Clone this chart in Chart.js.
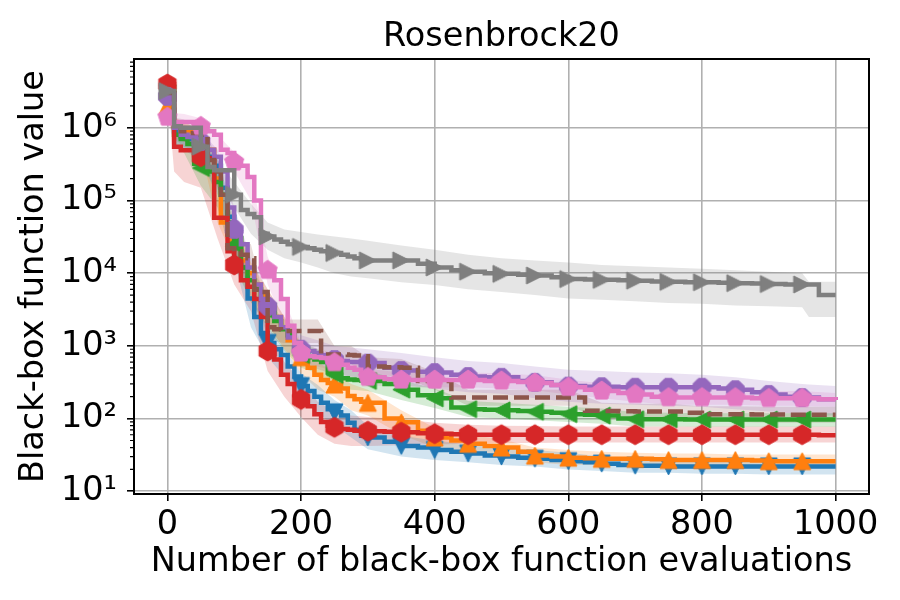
<!DOCTYPE html>
<html>
<head>
<meta charset="utf-8">
<script src="https://cdn.jsdelivr.net/npm/chart.js@4/dist/chart.umd.min.js"></script>
<style>
  html, body { margin: 0; padding: 0; background: #fff; }
</style>
</head>
<body>
<canvas id="grafica" width="900" height="600"></canvas>
<script>
const chartTitle = 'Rosenbrock20';
const xTitle = 'Number of black-box function evaluations';
const yTitle = 'Black-box function value';

const xTicks = [0, 200, 400, 600, 800, 1000];
const xTickLabels = ['0', '200', '400', '600', '800', '1000'];
const yTicks = [10, 100, 1000, 10000, 100000, 1000000];
const yTickLabels = ['10¹', '10²', '10³', '10⁴', '10⁵', '10⁶'];

// x positions of the best-so-far curves
const evals = [0, 10, 20, 30, 40, 50, 60, 70, 80, 90, 100, 110, 120, 130, 140, 150, 160, 170, 180, 190, 200,
  210, 220, 230, 240, 250, 260, 270, 280, 290, 300, 325, 350, 375, 400, 425, 450, 475, 500,
  525, 550, 575, 600, 625, 650, 675, 700, 725, 750, 775, 800, 825, 850, 875, 900, 925, 950, 975, 1000];
// x positions of the shaded bands
const bandEvals = [0, 10, 25, 50, 75, 100, 125, 150, 175, 200, 225, 250, 275, 300, 350, 400, 450, 500,
  550, 600, 650, 700, 750, 800, 850, 900, 950, 960, 1000];

const blueMean = [3.0e6, 9.0e5, 7.5e5, 7.0e5, 6.5e5, 5.5e5, 4.0e5, 3.0e5, 1.5e5, 6.0e4,
  3.0e4, 1.2e4, 4.5e3, 2.5e3, 1.5e3, 1.1e3, 900, 750, 520, 380, 280, 240, 200, 165, 135, 122,
  110, 88, 70, 58, 55, 48, 42, 40, 37, 35, 33, 31, 30, 29, 28, 27, 26, 25, 24, 23, 22.5,
  22.5, 22, 22, 22, 22, 22, 22, 22, 22, 22, 22, 22];
const blueLow = [2.5e6, 6e5, 5e5, 3.5e5, 1.2e5, 1.5e4, 1.8e3, 700, 380, 180, 120, 80, 55, 38, 30, 27, 25, 23,
  22, 20, 19, 18, 18, 17.5, 17.5, 17, 17, 17, 17];
const blueHigh = [3.5e6, 1.2e6, 9e5, 8e5, 4e5, 6e4, 5e3, 1.8e3, 900, 420, 290, 180, 130, 80, 58, 50, 44, 40,
  37, 34, 30, 28, 28, 27.5, 27.5, 27, 27, 27, 27];

const orangeMean = [2.0e6, 1.0e6, 9.0e5, 9.0e5, 8.0e5, 7.0e5, 5.0e5, 2.0e5, 5.0e4, 3.5e4,
  3.0e4, 1.5e4, 1.0e4, 7.0e3, 5.0e3, 3.5e3, 2.5e3, 1.8e3, 1.2e3, 900, 700, 500, 400, 340, 310, 295,
  260, 205, 185, 170, 165, 100, 89, 68, 55, 50, 45, 42, 40, 35, 31, 30, 29, 28.5, 28, 28, 28,
  27.5, 27, 27, 27, 27, 27, 26.5, 26, 26, 26, 26, 26];
const orangeLow = [1.6e6, 7e5, 6.5e5, 5e5, 5e4, 1.5e4, 4e3, 2e3, 900, 420, 250, 200, 130, 110, 60, 40, 34, 30,
  25, 23, 23, 22, 22, 21, 21, 21, 21, 21, 21];
const orangeHigh = [2.6e6, 1.4e6, 1.2e6, 9e5, 2e5, 6e4, 1.4e4, 6e3, 2.5e3, 1.1e3, 600, 430, 300, 250, 130, 75, 60, 52,
  40, 37, 35, 34, 33, 33, 32, 32, 32, 32, 32];

const greenMean = [3.0e6, 8.0e5, 7.0e5, 6.0e5, 3.2e5, 2.8e5, 2.5e5, 1.8e5, 1.2e5, 5.0e4,
  2.5e4, 1.2e4, 8.0e3, 6.0e3, 4.0e3, 3.0e3, 2.2e3, 1.7e3, 1.4e3, 1.0e3, 750, 700, 650, 600, 430, 400,
  360, 345, 340, 335, 330, 300, 250, 210, 190, 142, 135, 132, 130, 127, 124, 120, 115, 113, 110, 100, 98,
  98, 98, 97, 97, 97, 97, 97, 97, 97, 97, 97, 97];
const greenLow = [2.5e6, 6e5, 4.5e5, 1.6e5, 8e4, 1.3e4, 4e3, 1.8e3, 850, 500, 420, 280, 250, 240, 180, 140, 105, 100,
  95, 90, 85, 78, 78, 77, 77, 77, 77, 77, 77];
const greenHigh = [3.6e6, 1.1e6, 9e5, 4.5e5, 2.5e5, 5e4, 1.2e4, 5e3, 2e3, 1.1e3, 900, 580, 470, 450, 340, 260, 175, 165,
  155, 145, 138, 122, 120, 118, 118, 118, 118, 118, 118];

const redMean = [4.0e6, 5.5e5, 4.9e5, 4.9e5, 4.2e5, 4.0e5, 3.8e5, 5.8e4, 5.8e4, 2.0e4,
  1.3e4, 8.0e3, 6.5e3, 4.4e3, 2.5e3, 850, 650, 400, 300, 210, 184, 148, 115, 90, 80, 76,
  72, 70, 68, 67, 67, 66, 65, 63, 62, 61, 60, 60, 60, 60, 60, 60, 60, 60, 60, 60, 60,
  60, 60, 60, 60, 60, 60, 60, 60, 60, 60, 59, 59];
const redLow = [3.4e6, 2.5e5, 1.8e5, 1.5e5, 3e4, 7e3, 3e3, 450, 200, 105, 60, 45, 42, 42, 43, 44, 45, 46,
  46, 47, 47, 47, 47, 47, 47, 47, 47, 47, 47];
const redHigh = [4.6e6, 9e5, 8e5, 7e5, 1.1e5, 2.5e4, 1e4, 1.6e3, 600, 330, 170, 125, 110, 105, 98, 88, 82, 80,
  79, 78, 78, 78, 78, 78, 78, 78, 78, 78, 78];

const purpleMean = [2.7e6, 1.0e6, 8.0e5, 7.5e5, 7.0e5, 6.5e5, 5.0e5, 4.0e5, 2.5e5, 8.0e4,
  4.0e4, 2.5e4, 1.2e4, 7.0e3, 4.4e3, 3.5e3, 2.5e3, 1.8e3, 1.3e3, 1.1e3, 900, 850, 800, 750, 700, 650,
  620, 600, 600, 590, 580, 500, 460, 440, 430, 400, 380, 370, 370, 330, 315, 290, 280, 275, 275, 270, 270,
  270, 270, 270, 270, 260, 250, 230, 215, 200, 195, 185, 180];
const purpleLow = [2.2e6, 7e5, 5.5e5, 4.5e5, 1.5e5, 2e4, 5e3, 2e3, 900, 550, 480, 400, 380, 360, 290, 260, 230, 220,
  190, 170, 160, 155, 150, 145, 135, 125, 115, 112, 110];
const purpleHigh = [3.3e6, 1.4e6, 1.1e6, 9e5, 5e5, 8e4, 1.6e4, 6e3, 2.5e3, 1.4e3, 1.2e3, 1e3, 950, 900, 800, 700, 620, 580,
  520, 470, 450, 430, 420, 400, 370, 330, 300, 295, 280];

const brownMean = [3.0e6, 1.1e6, 9.0e5, 8.5e5, 8.5e5, 8.0e5, 3.6e5, 2.5e5, 1.2e5, 2.2e4,
  2.0e4, 1.8e4, 1.6e4, 5.9e3, 5.5e3, 1.8e3, 1.7e3, 1.6e3, 1.6e3, 1.6e3, 1.6e3, 1.6e3, 1.6e3, 760, 760, 760,
  760, 750, 740, 720, 520, 510, 500, 330, 330, 195, 195, 195, 195, 195, 195, 195, 195, 128, 127, 126, 125,
  125, 125, 120, 115, 115, 115, 114, 114, 113, 113, 113, 113];
const brownLow = [2.5e6, 8e5, 6.5e5, 6e5, 1.5e5, 1.2e4, 1e4, 1.2e3, 1.1e3, 1.1e3, 1.1e3, 560, 560, 400, 380, 250, 150, 150,
  150, 150, 100, 97, 97, 90, 90, 88, 88, 88, 88];
const brownHigh = [3.6e6, 1.4e6, 1.1e6, 1.05e6, 4e5, 3.2e4, 2.5e4, 2.8e3, 2.3e3, 2.3e3, 2.3e3, 1e3, 1e3, 700, 660, 440, 250, 250,
  250, 250, 165, 160, 160, 148, 148, 145, 145, 145, 145];

const pinkMean = [1.4e6, 1.2e6, 1.2e6, 1.2e6, 1.15e6, 1.05e6, 9.0e5, 8.0e5, 5.0e5, 4.5e5,
  3.4e5, 3.0e5, 2.1e5, 1.0e5, 1.2e4, 1.1e4, 8.0e3, 4.4e3, 1.9e3, 1.1e3, 800, 720, 700, 680, 600, 590,
  550, 500, 470, 420, 370, 350, 340, 340, 340, 340, 340, 330, 330, 320, 310, 290, 270, 250, 240, 225, 215,
  200, 195, 195, 195, 195, 195, 190, 190, 190, 190, 185, 180];
const pinkLow = [1.1e6, 9e5, 9e5, 8e5, 4.5e5, 2.5e5, 1e5, 7e3, 2e3, 600, 520, 450, 370, 290, 270, 270, 270, 260,
  245, 215, 190, 170, 155, 155, 155, 150, 150, 148, 145];
const pinkHigh = [1.8e6, 1.6e6, 1.55e6, 1.35e6, 8e5, 4.6e5, 2.2e5, 1.7e4, 4.5e3, 1.1e3, 920, 780, 630, 480, 430, 430, 430, 420,
  395, 345, 305, 275, 250, 250, 250, 240, 240, 235, 225];

const grayMean = [3.2e6, 1.05e6, 1.0e6, 1.0e6, 1.0e6, 5.5e5, 2.9e5, 2.6e5, 2.6e5, 2.6e5,
  1.2e5, 7.4e4, 6.5e4, 5.9e4, 3.5e4, 3.2e4, 2.9e4, 2.7e4, 2.5e4, 2.4e4, 2.3e4, 2.2e4, 2.1e4, 2.0e4, 1.9e4, 1.9e4,
  1.8e4, 1.7e4, 1.6e4, 1.55e4, 1.5e4, 1.5e4, 1.5e4, 1.35e4, 1.2e4, 1.1e4, 1.05e4, 1.0e4, 9.8e3,
  9.5e3, 9.3e3, 8.8e3, 8.3e3, 8.2e3, 8.1e3, 8.0e3, 7.9e3,
  7.7e3, 7.6e3, 7.5e3, 7.5e3, 7.4e3, 7.3e3, 7.2e3, 7.1e3, 7.0e3, 7.0e3, 5.0e3, 5.0e3];
const grayLow = [2.6e6, 8e5, 7.5e5, 3.5e5, 1.8e5, 8e4, 3.5e4, 2.1e4, 1.6e4, 1.4e4, 1.2e4, 1e4, 9e3, 8.5e3, 7.5e3, 6.9e3, 6e3, 5.5e3,
  5e3, 4.5e3, 4.3e3, 4.1e3, 3.9e3, 3.8e3, 3.6e3, 3.5e3, 3.4e3, 2.5e3, 2.5e3];
const grayHigh = [3.8e6, 1.4e6, 1.3e6, 8e5, 3.6e5, 1.8e5, 9e4, 5e4, 4e4, 3.7e4, 3.4e4, 3.2e4, 3e4, 2.8e4, 2.4e4, 2.1e4, 1.8e4, 1.6e4,
  1.5e4, 1.4e4, 1.3e4, 1.25e4, 1.2e4, 1.15e4, 1.1e4, 1.05e4, 1e4, 7.6e3, 7.6e3];

const markEvery = 50;
const fontSize = 33.5;

// polygon markers like matplotlib's v ^ < > h 8 p
function makeMarker(shape, color, r) {
  let c = document.createElement('canvas');
  let s = Math.ceil(2 * r + 4);
  c.width = s; c.height = s;
  let g = c.getContext('2d');
  let m = s / 2;
  let pts;
  if (shape === 'down') pts = [[0, r], [-r, -r], [r, -r]];
  else if (shape === 'up') pts = [[0, -r], [-r, r], [r, r]];
  else if (shape === 'left') pts = [[-r, 0], [r, -r], [r, r]];
  else if (shape === 'right') pts = [[r, 0], [-r, -r], [-r, r]];
  else {
    let n = shape === 'hexagon' ? 6 : shape === 'octagon' ? 8 : 5;
    let off = shape === 'octagon' ? Math.PI / 8 : 0;
    pts = [];
    for (let k = 0; k < n; k++) {
      let a = -Math.PI / 2 + off + k * 2 * Math.PI / n;
      pts.push([r * Math.cos(a), r * Math.sin(a)]);
    }
  }
  g.beginPath();
  pts.forEach((p, k) => k ? g.lineTo(m + p[0], m + p[1]) : g.moveTo(m + p[0], m + p[1]));
  g.closePath();
  g.fillStyle = color; g.strokeStyle = color; g.lineWidth = 1;
  g.fill(); g.stroke();
  return c;
}

function alpha(hex, a) {
  let n = parseInt(hex.slice(1), 16);
  return 'rgba(' + (n >> 16) + ',' + ((n >> 8) & 255) + ',' + (n & 255) + ',' + a + ')';
}

let series = [
  {mean: blueMean, low: blueLow, high: blueHigh, color: '#1f77b4', marker: 'down', size: 8.5},
  {mean: orangeMean, low: orangeLow, high: orangeHigh, color: '#ff7f0e', marker: 'up', size: 8.5},
  {mean: greenMean, low: greenLow, high: greenHigh, color: '#2ca02c', marker: 'left', size: 8.5},
  {mean: redMean, low: redLow, high: redHigh, color: '#d62728', marker: 'hexagon', size: 10},
  {mean: purpleMean, low: purpleLow, high: purpleHigh, color: '#9467bd', marker: 'octagon', size: 9.5},
  {mean: brownMean, low: brownLow, high: brownHigh, color: '#8c564b', marker: null, dash: [15, 6]},
  {mean: pinkMean, low: pinkLow, high: pinkHigh, color: '#e377c2', marker: 'pentagon', size: 10},
  {mean: grayMean, low: grayLow, high: grayHigh, color: '#7f7f7f', marker: 'right', size: 8.5}
];

let datasets = [];
series.forEach((s, k) => {
  let hiIndex = datasets.length;
  datasets.push({
    data: bandEvals.map((x, i) => ({x: x, y: s.high[i]})),
    borderWidth: 0, pointRadius: 0, fill: false, order: 100 + k
  });
  datasets.push({
    data: bandEvals.map((x, i) => ({x: x, y: s.low[i]})),
    borderWidth: 0, pointRadius: 0, fill: hiIndex, backgroundColor: alpha(s.color, 0.2), order: 100 + k
  });
});
series.forEach((s, k) => {
  let img = s.marker ? makeMarker(s.marker, s.color, s.size) : null;
  datasets.push({
    data: evals.map((x, i) => ({x: x, y: s.mean[i]})),
    borderColor: s.color,
    borderWidth: 4.5,
    borderDash: s.dash || [],
    stepped: 'before',
    fill: false,
    pointStyle: img || 'circle',
    pointRadius: ctx => {
      let x = evals[ctx.dataIndex];
      return (img && x % markEvery === 0 && x < 1000) ? s.size : 0;
    },
    pointHoverRadius: 0,
    order: 20 - k
  });
});

const frame = {
  id: 'frame',
  afterDatasetsDraw(chart) {
    let {ctx, chartArea: a} = chart;
    let y = chart.scales.y;
    ctx.save();
    ctx.strokeStyle = '#000';
    ctx.lineWidth = 2;
    ctx.strokeRect(a.left, a.top, a.right - a.left, a.bottom - a.top);
    // minor ticks of the log axis
    ctx.lineWidth = 1.2;
    ctx.beginPath();
    for (let e = 0; e < 7; e++) {
      for (let m = 2; m < 10; m++) {
        let v = m * Math.pow(10, e);
        if (v < y.min || v > y.max) continue;
        let py = y.getPixelForValue(v);
        ctx.moveTo(a.left - 4, py);
        ctx.lineTo(a.left, py);
      }
    }
    ctx.stroke();
    ctx.fillStyle = '#000';
    ctx.font = fontSize + 'px "DejaVu Sans"';
    ctx.textAlign = 'center';
    ctx.textBaseline = 'alphabetic';
    ctx.fillText(chartTitle, (a.left + a.right) / 2, 46);
    ctx.restore();
  }
};

let ctx = document.getElementById('grafica').getContext('2d');
new Chart(ctx, {
  type: 'line',
  data: {datasets: datasets},
  options: {
    responsive: false,
    devicePixelRatio: 1,
    animation: false,
    events: [],
    layout: {padding: {left: 0, right: 31, top: 59, bottom: 0}},
    plugins: {legend: {display: false}, tooltip: {enabled: false}, title: {display: false}},
    scales: {
      x: {
        type: 'linear',
        min: -50,
        max: 1050,
        bounds: 'data',
        afterBuildTicks: sc => { sc.ticks = xTicks.map(v => ({value: v})); },
        afterFit: sc => { sc.height = 106; },
        ticks: {
          callback: (v, i) => xTickLabels[i],
          autoSkip: false, maxRotation: 0, padding: 4,
          color: '#000', font: {family: 'DejaVu Sans', size: fontSize}
        },
        grid: {color: '#b0b0b0', lineWidth: 1.6, tickColor: '#000', tickLength: 7, tickWidth: 1.6},
        border: {display: false},
        title: {display: true, text: xTitle, color: '#000', font: {family: 'DejaVu Sans', size: fontSize},
          padding: {top: 0, bottom: 18}}
      },
      y: {
        type: 'logarithmic',
        min: 9.18,
        max: 8.84e6,
        bounds: 'data',
        afterBuildTicks: sc => { sc.ticks = yTicks.map(v => ({value: v})); },
        afterFit: sc => { sc.width = 134; },
        ticks: {
          callback: (v, i) => yTickLabels[i],
          autoSkip: false, padding: 10,
          color: '#000', font: {family: 'DejaVu Sans', size: fontSize}
        },
        grid: {color: '#b0b0b0', lineWidth: 1.6, tickColor: '#000', tickLength: 7, tickWidth: 1.6},
        border: {display: false},
        title: {display: true, text: yTitle, color: '#000', font: {family: 'DejaVu Sans', size: fontSize},
          padding: {top: 14, bottom: 0}}
      }
    }
  },
  plugins: [frame]
});
</script>
</body>
</html>
